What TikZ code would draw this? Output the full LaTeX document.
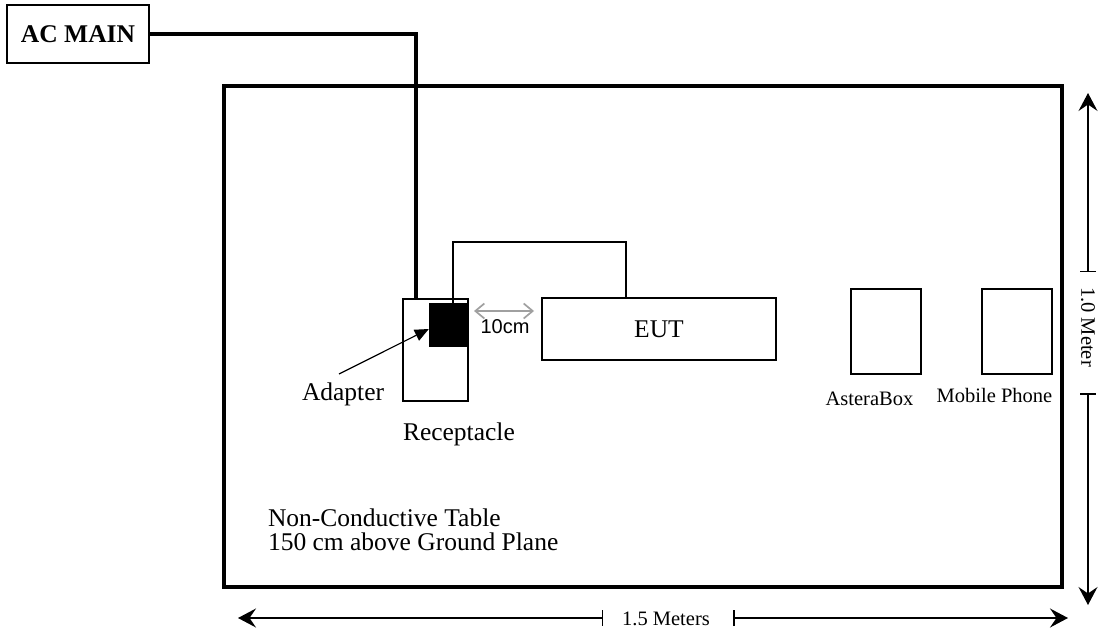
\documentclass[tikz,border=0pt]{standalone}
\usepackage{fontspec}
\setmainfont{Liberation Serif}
\newfontfamily\arialf{Liberation Sans}
\usetikzlibrary{arrows.meta}
\begin{document}
\begin{tikzpicture}[x=1pt,y=-1pt,
  outline/.style={draw, line width=1.7pt, inner sep=0pt, outer sep=0pt},
  bigtxt/.style={font=\fontsize{25.5}{28}\selectfont, inner sep=0pt, outer sep=0pt},
  smtxt/.style={font=\fontsize{20.5}{23}\selectfont, inner sep=0pt, outer sep=0pt},
  dimbar/.style={{Bar[width=16pt,line width=1.5pt]}-{Stealth[length=18pt,width=19pt,inset=6.5pt]}},
  wire/.style={line width=3.3pt},
  thinwire/.style={line width=1.7pt}
]
\useasboundingbox (0,0) rectangle (1100,631);
\fill[white] (0,0) rectangle (1100,631);

% table
\node[outline, line width=3.3pt, minimum width=838pt, minimum height=501pt] (table) at (643,336.5) {};

% AC main
\node[outline, minimum width=142pt, minimum height=58pt, font=\fontsize{25.5}{28}\selectfont\bfseries] (ac) at (78,34) {AC MAIN};

% receptacle and adapter
\node[outline, minimum width=65pt, minimum height=102pt] (recept) at (435.5,350) {};
\node[fill=black, inner sep=0pt, minimum width=38pt, minimum height=44pt] (adapt) at (448,325) {};

% EUT
\node[outline, minimum width=234pt, minimum height=62pt] (eut) at (659,329) {};
\node[bigtxt, anchor=base] (euttxt) at (659,337) {EUT};

% AsteraBox, Mobile Phone
\node[outline, minimum width=70pt, minimum height=85pt] (astera) at (886,331.5) {};
\node[outline, minimum width=70pt, minimum height=85pt] (mobile) at (1017,331.5) {};
\node[smtxt, anchor=base] (asteratxt) at (869.5,405) {AsteraBox};
\node[smtxt, anchor=base] (mobiletxt) at (994.5,402) {Mobile Phone};

% labels
\node[bigtxt, anchor=base west] (adapttxt) at (302,400) {Adapter};
\node[bigtxt, anchor=base west] (recepttxt) at (403,440) {Receptacle};
\node[anchor=base, inner sep=0pt, font=\arialf\fontsize{20}{23}\selectfont] (tencm) at (505,333) {10cm};
\node[bigtxt, anchor=base west] (nc1) at (268,526) {Non-Conductive Table};
\node[bigtxt, anchor=base west] (nc2) at (268,550) {150 cm above Ground Plane};

% AC wire
\coordinate (acdrop) at (416,299);
\draw[wire] (ac.east) -| (acdrop);

% thin wire adapter -> EUT
\coordinate (w1) at (453,242);
\coordinate (w2) at (626,242);
\draw[thinwire] (w1 |- adapt.north) -- (w1) -- (w2) -- (w2 |- eut.north);

% 10cm gray arrow
\coordinate (g1) at (474,311);
\coordinate (g2) at (534,311);
\draw[line width=1.7pt, color={rgb,255:red,160;green,160;blue,160}, {Straight Barb[length=9pt,width=15pt]}-{Straight Barb[length=9pt,width=15pt]}] (g1) -- (g2);

% adapter pointer
\coordinate (a1) at (339,374);
\draw[line width=1.2pt, -{Triangle[length=14pt,width=12pt]}] (a1) -- ([yshift=-4pt]adapt.west);

% vertical dimension
\coordinate (vtop) at (1088,93);
\coordinate (vbot) at (1088,605);
\coordinate (vt1) at (1088,272);
\coordinate (vt2) at (1088,393);
\draw[line width=1.2pt, dimbar] (vt1) -- (vtop);
\draw[line width=1.2pt, dimbar] (vt2) -- (vbot);
\node[smtxt, rotate=-90] (vdim) at (1088,327) {1.0 Meter};

% horizontal dimension
\coordinate (hl) at (238,618);
\coordinate (hr) at (1068,618);
\coordinate (ht1) at (603,618);
\coordinate (ht2) at (733,618);
\draw[line width=1.8pt, dimbar] (ht1) -- (hl);
\draw[line width=1.8pt, dimbar] (ht2) -- (hr);
\node[smtxt, anchor=base] (hdim) at (666,625) {1.5 Meters};
\end{tikzpicture}
\end{document}
